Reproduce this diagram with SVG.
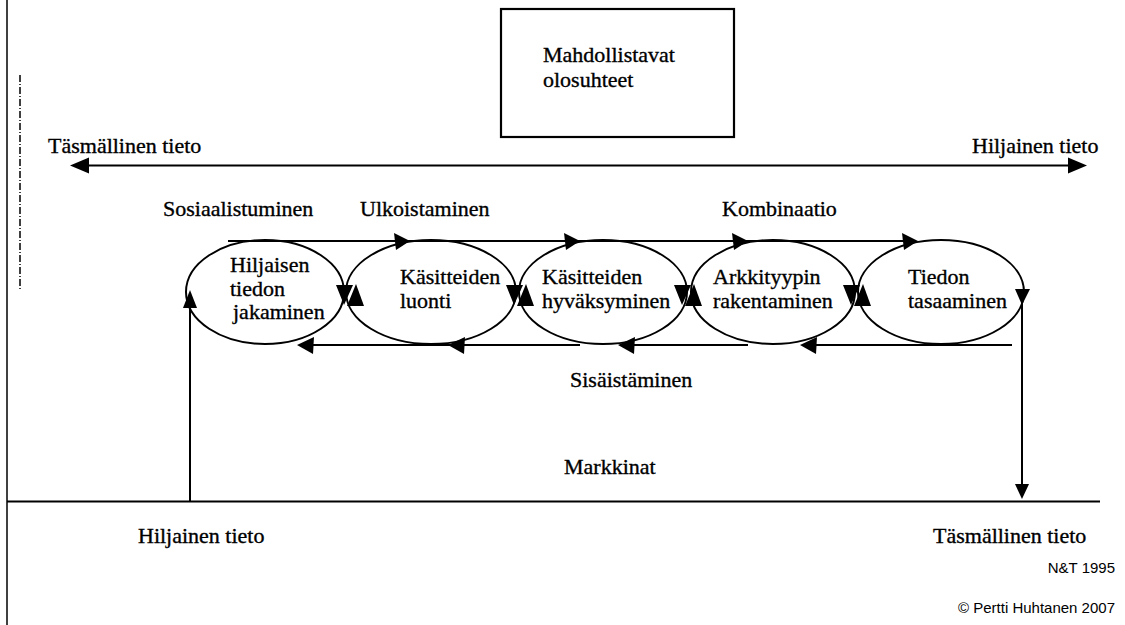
<svg xmlns="http://www.w3.org/2000/svg" width="1125" height="625" viewBox="0 0 1125 625">
<style>
.t{font-family:"Liberation Serif","Times New Roman",serif;font-size:22px;fill:#000;stroke:#000;stroke-width:0.35}
.s{font-family:"Liberation Sans",Arial,sans-serif;font-size:15px;fill:#000}
.ln{stroke:#000;stroke-width:2;fill:none}
.el{stroke:#000;stroke-width:2;fill:none}
.ah{fill:#000;stroke:none}
</style>
<rect width="1125" height="625" fill="#fff"/>
<line x1="7" y1="0" x2="7" y2="625" stroke="#000" stroke-width="1.5"/>
<line x1="20" y1="75" x2="20" y2="290" stroke="#000" stroke-width="1.5" stroke-dasharray="7,2,1,2"/>

<g id="box">
<rect x="501" y="9" width="233" height="128" fill="#fff" stroke="#000" stroke-width="2.2"/>
<text class="t" x="543" y="62">Mahdollistavat</text>
<text class="t" x="543" y="87">olosuhteet</text>
</g>

<g id="labels">
<text class="t" x="48" y="153">Täsmällinen tieto</text>
<text class="t" x="972" y="153">Hiljainen tieto</text>
<text class="t" x="163" y="216">Sosiaalistuminen</text>
<text class="t" x="360" y="216">Ulkoistaminen</text>
<text class="t" x="722" y="216">Kombinaatio</text>
<text class="t" x="570" y="387">Sisäistäminen</text>
<text class="t" x="564" y="474">Markkinat</text>
<text class="t" x="138" y="543">Hiljainen tieto</text>
<text class="t" x="933" y="543">Täsmällinen tieto</text>
<text class="s" x="1115" y="573" text-anchor="end">N&amp;T 1995</text>
<text class="s" x="1115" y="613" text-anchor="end">© Pertti Huhtanen 2007</text>
</g>

<g id="node1">
<ellipse class="el" cx="265" cy="292" rx="79" ry="52"/>
<text class="t" x="230" y="272">Hiljaisen</text>
<text class="t" x="230" y="296">tiedon</text>
<text class="t" x="233" y="319">jakaminen</text>
</g>
<g id="node2">
<ellipse class="el" cx="431" cy="292" rx="85" ry="52"/>
<text class="t" x="400" y="284">Käsitteiden</text>
<text class="t" x="400" y="308">luonti</text>
</g>
<g id="node3">
<ellipse class="el" cx="603" cy="292" rx="84" ry="52"/>
<text class="t" x="542" y="284">Käsitteiden</text>
<text class="t" x="542" y="308">hyväksyminen</text>
</g>
<g id="node4">
<ellipse class="el" cx="773" cy="292" rx="82" ry="52"/>
<text class="t" x="713" y="284">Arkkityypin</text>
<text class="t" x="713" y="308">rakentaminen</text>
</g>
<g id="node5">
<ellipse class="el" cx="941" cy="292" rx="83" ry="52"/>
<text class="t" x="908" y="284">Tiedon</text>
<text class="t" x="908" y="308">tasaaminen</text>
</g>

<g id="connectors">
<line class="ln" x1="80" y1="165.5" x2="1078" y2="165.5"/>
<polygon class="ah" points="70,165.5 89,157.5 89,173.5"/>
<polygon class="ah" points="1087,165.5 1068,157.5 1068,173.5"/>
<line class="ln" x1="228" y1="241" x2="915" y2="241"/>
<polygon class="ah" points="410,241 394,233 396,250"/>
<polygon class="ah" points="580,241 564,233 566,250"/>
<polygon class="ah" points="748,241 732,233 734,250"/>
<polygon class="ah" points="918,241 902,233 904,250"/>
<line class="ln" x1="300" y1="345" x2="580" y2="345"/>
<line class="ln" x1="620" y1="345" x2="748" y2="345"/>
<line class="ln" x1="802" y1="345" x2="1012" y2="345"/>
<polygon class="ah" points="297,345 314,337 313,354"/>
<polygon class="ah" points="448,345 465,337 464,354"/>
<polygon class="ah" points="618,345 635,337 634,354"/>
<polygon class="ah" points="800,345 817,337 816,354"/>
<polygon class="ah" points="336,285 353,285 344,305"/>
<polygon class="ah" points="347,306 364,306 356,284"/>
<polygon class="ah" points="506,285 523,285 514,305"/>
<polygon class="ah" points="517,306 534,306 526,284"/>
<polygon class="ah" points="674,285 691,285 682,305"/>
<polygon class="ah" points="685,306 702,306 694,284"/>
<polygon class="ah" points="843,285 860,285 851,305"/>
<polygon class="ah" points="854,306 871,306 863,284"/>
<line class="ln" x1="1022" y1="300" x2="1022" y2="490"/>
<polygon class="ah" points="1015,289 1030,289 1022,305"/>
<polygon class="ah" points="1015,484 1029,484 1022,499"/>
<line class="ln" x1="190" y1="300" x2="190" y2="502"/>
<polygon class="ah" points="183,308 197,308 190,290"/>
<line class="ln" x1="7" y1="501.5" x2="1100" y2="501.5"/>
</g>
</svg>
